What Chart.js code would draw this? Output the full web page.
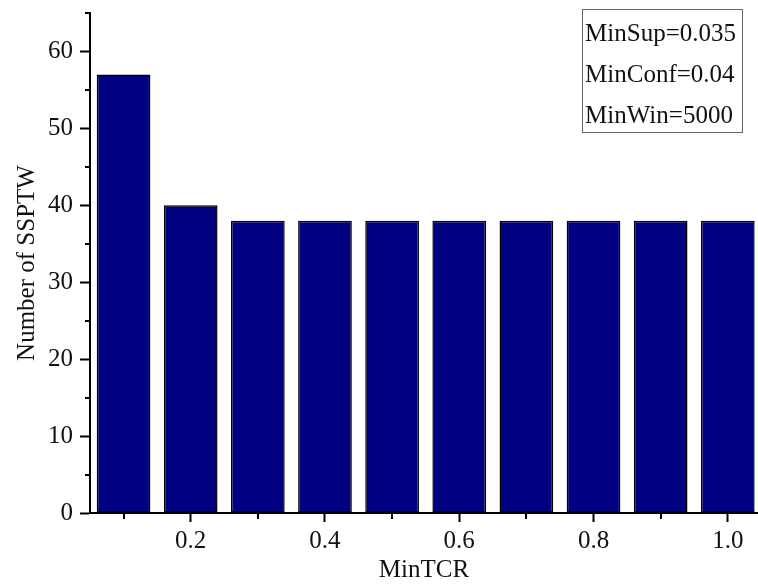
<!DOCTYPE html>
<html>
<head>
<meta charset="utf-8">
<script src="https://cdn.jsdelivr.net/npm/chart.js@4.4.1/dist/chart.umd.min.js"></script>
<style>
  html, body { margin: 0; padding: 0; background: #fff; }
  #wrap { width: 758px; height: 585px; }
</style>
</head>
<body>
<div id="wrap"><canvas id="c" width="758" height="585"></canvas></div>
<script>
// MinTCR thresholds and resulting SSPTW counts
const minTCR = [0.1, 0.2, 0.3, 0.4, 0.5, 0.6, 0.7, 0.8, 0.9, 1.0];
const ssptwCount = [57, 40, 38, 38, 38, 38, 38, 38, 38, 38];

// Labelled ticks on each axis, and the unlabelled minor ticks between them
const xMajorTicks = [0.2, 0.4, 0.6, 0.8, 1.0];
const xMinorTicks = [0.1, 0.3, 0.5, 0.7, 0.9];
const yMajorTicks = [0, 10, 20, 30, 40, 50, 60];
const yMinorTicks = [5, 15, 25, 35, 45, 55, 65];

// Parameter box text
const paramLines = ['MinSup=0.035', 'MinConf=0.04', 'MinWin=5000'];

const FONT = "'Liberation Serif', 'Times New Roman', serif";

// Draws the short minor tick marks below / left of the axes
const minorTicks = {
  id: 'minorTicks',
  afterDraw(chart) {
    const { ctx, chartArea, scales } = chart;
    ctx.save();
    ctx.strokeStyle = '#000';
    ctx.lineWidth = 2;
    ctx.beginPath();
    xMinorTicks.forEach(v => {
      const px = Math.round(scales.x.getPixelForValue(v));
      ctx.moveTo(px, chartArea.bottom);
      ctx.lineTo(px, chartArea.bottom + 6);
    });
    yMinorTicks.forEach(v => {
      const py = Math.round(scales.y.getPixelForValue(v));
      ctx.moveTo(chartArea.left, py);
      ctx.lineTo(chartArea.left - 5, py);
    });
    ctx.stroke();
    ctx.restore();
  }
};

// Boxed list of the mining parameters in the upper right corner
const paramBox = {
  id: 'paramBox',
  afterDraw(chart) {
    const { ctx, chartArea } = chart;
    ctx.save();
    ctx.font = `25px ${FONT}`;
    const w = Math.max(...paramLines.map(t => ctx.measureText(t).width)) + 9;
    const rowH = 41;
    const h = rowH * paramLines.length;
    const right = chartArea.right - 16;
    const left = right - w;
    const top = chartArea.top - 4;
    ctx.fillStyle = '#fff';
    ctx.fillRect(left, top, w, h);
    ctx.strokeStyle = '#666';
    ctx.lineWidth = 1;
    ctx.strokeRect(Math.round(left) + 0.5, Math.round(top) + 0.5, Math.round(w), Math.round(h));
    ctx.fillStyle = '#111';
    ctx.textBaseline = 'middle';
    ctx.textAlign = 'left';
    paramLines.forEach((t, i) => {
      ctx.fillText(t, left + 3, top + rowH * i + rowH / 2 + 5);
    });
    ctx.restore();
  }
};

new Chart(document.getElementById('c'), {
  type: 'bar',
  data: {
    datasets: [{
      data: minTCR.map((x, i) => ({ x, y: ssptwCount[i] })),
      backgroundColor: '#000080',
      borderColor: '#000',
      borderWidth: 1.5,
      borderSkipped: false,
      barPercentage: 0.8,
      categoryPercentage: 1.0
    }]
  },
  options: {
    responsive: false,
    animation: false,
    layout: { padding: { top: 13, right: 0, left: 0, bottom: 0 } },
    plugins: { legend: { display: false }, tooltip: { enabled: false } },
    scales: {
      x: {
        type: 'linear',
        offset: false,
        min: 0.05,
        max: 1.045,
        afterBuildTicks(scale) {
          scale.ticks = xMajorTicks.map(v => ({ value: v }));
        },
        afterFit(scale) {
          scale.height = 72;
          scale.paddingLeft = 0;
          scale.paddingRight = 0;
        },
        ticks: {
          color: '#111',
          font: { family: FONT, size: 25 },
          padding: 4,
          maxRotation: 0,
          autoSkip: false,
          callback: v => Number(v).toFixed(1)
        },
        grid: {
          display: true,
          offset: false,
          drawOnChartArea: false,
          drawTicks: true,
          tickLength: 9,
          tickWidth: 2,
          tickColor: '#000',
          color: '#000'
        },
        border: { display: true, color: '#000', width: 2 },
        title: {
          display: true,
          text: 'MinTCR',
          color: '#111',
          font: { family: FONT, size: 25 },
          padding: { top: 0, bottom: 0 }
        }
      },
      y: {
        type: 'linear',
        min: 0,
        max: 65,
        afterBuildTicks(scale) {
          scale.ticks = yMajorTicks.map(v => ({ value: v }));
        },
        afterFit(scale) {
          scale.width = 90;
          scale.paddingTop = 0;
          scale.paddingBottom = 0;
        },
        ticks: {
          color: '#111',
          font: { family: FONT, size: 25 },
          padding: 7,
          autoSkip: false
        },
        grid: {
          display: true,
          drawOnChartArea: false,
          drawTicks: true,
          tickLength: 10,
          tickWidth: 2,
          tickColor: '#000',
          color: '#000'
        },
        border: { display: true, color: '#000', width: 2 },
        title: {
          display: true,
          text: 'Number of SSPTW',
          color: '#111',
          font: { family: FONT, size: 25 },
          padding: { top: 12, bottom: 0 }
        }
      }
    }
  },
  plugins: [minorTicks, paramBox]
});
</script>
</body>
</html>
